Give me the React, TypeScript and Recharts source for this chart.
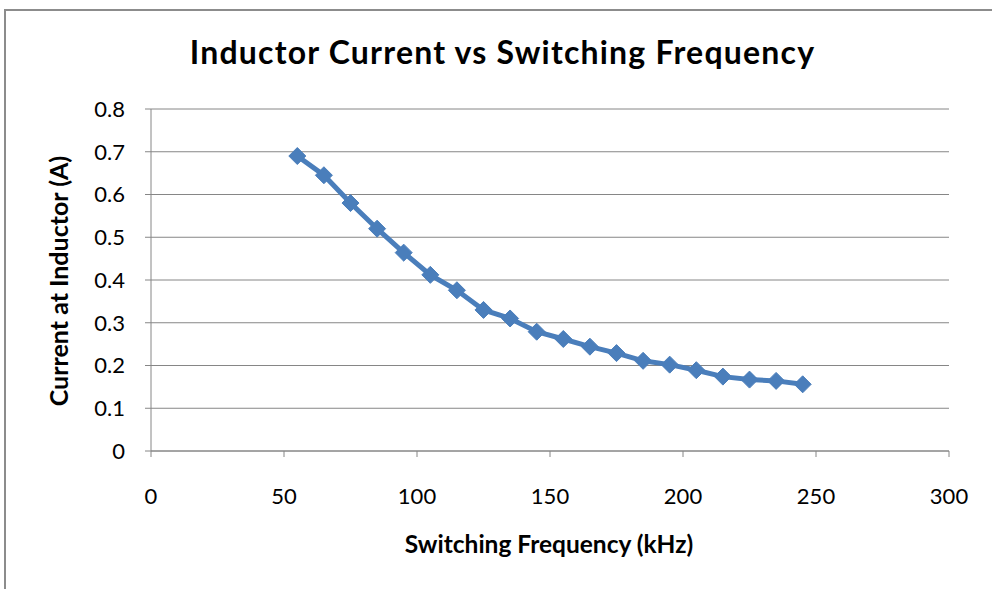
import React from "react";
import { LineChart, Line, XAxis, YAxis, CartesianGrid } from "recharts";

const frequencies = [55, 65, 75, 85, 95, 105, 115, 125, 135, 145, 155, 165, 175, 185, 195, 205, 215, 225, 235, 245];
const currents = [0.69, 0.645, 0.58, 0.52, 0.464, 0.412, 0.376, 0.33, 0.31, 0.279, 0.262, 0.244, 0.229, 0.211, 0.202, 0.189, 0.174, 0.167, 0.164, 0.156];
const xTicks = [0, 50, 100, 150, 200, 250, 300];
const yTicks = [0, 0.1, 0.2, 0.3, 0.4, 0.5, 0.6, 0.7, 0.8];

const data = frequencies.map((f, i) => ({ f, c: currents[i] }));

const FONT = "Lato, 'Open Sans', sans-serif";
const BLUE = "#4A7EBB";
const GRAY = "#868686";

const Diamond = (props: any) => {
  const { cx, cy } = props;
  if (cx == null || cy == null) return null;
  const r = 8.5;
  return (
    <path
      d={`M${cx},${cy - r} L${cx + r},${cy} L${cx},${cy + r} L${cx - r},${cy} Z`}
      fill={BLUE}
      stroke={BLUE}
      strokeWidth={1}
    />
  );
};

export default function App() {
  return (
    <div style={{ position: "absolute", left: 0, top: 0, width: 992, height: 589, overflow: "hidden", background: "#fff" }}>
      <div style={{ position: "absolute", left: 4, top: 9, width: 1100, height: 700, border: "2px solid #8c8c8c", boxSizing: "border-box" }} />
      <div style={{ position: "absolute", left: 0, top: 0 }}>
        <LineChart width={992} height={589} data={data} margin={{ top: 109, right: 43, bottom: 0, left: 0 }}>
          <CartesianGrid vertical={false} stroke={GRAY} strokeWidth={1} horizontalValues={yTicks} />
          <XAxis
            dataKey="f"
            type="number"
            domain={[0, 300]}
            ticks={xTicks}
            height={138}
            tickSize={6}
            tickMargin={31}
            stroke={GRAY}
            tick={{ fill: "#000", fontSize: 22, fontFamily: FONT }}
            interval={0}
          />
          <YAxis
            type="number"
            domain={[0, 0.8]}
            ticks={yTicks}
            width={151}
            tickSize={6}
            tickMargin={20}
            stroke={GRAY}
            tick={{ fill: "#000", fontSize: 22, fontFamily: FONT }}
            interval={0}
          />
          <Line
            dataKey="c"
            stroke={BLUE}
            strokeWidth={5}
            dot={<Diamond />}
            activeDot={false}
            isAnimationActive={false}
          />
        </LineChart>
      </div>
      <div style={{ position: "absolute", left: 0, width: 1005, top: 32, textAlign: "center", fontFamily: FONT, fontWeight: 700, fontSize: 32, lineHeight: "40px", letterSpacing: 1.2, color: "#000", whiteSpace: "nowrap" }}>
        Inductor Current vs Switching Frequency
      </div>
      <div style={{ position: "absolute", left: 349, width: 400, top: 529, textAlign: "center", fontFamily: FONT, fontWeight: 700, fontSize: 24.5, lineHeight: "30px", color: "#000", whiteSpace: "nowrap" }}>
        Switching Frequency (kHz)
      </div>
      <div style={{ position: "absolute", left: 58 - 150, width: 300, top: 281 - 15, textAlign: "center", fontFamily: FONT, fontWeight: 700, fontSize: 25, lineHeight: "30px", color: "#000", whiteSpace: "nowrap", transform: "rotate(-90deg)", transformOrigin: "150px 15px" }}>
        Current at Inductor (A)
      </div>
    </div>
  );
}
